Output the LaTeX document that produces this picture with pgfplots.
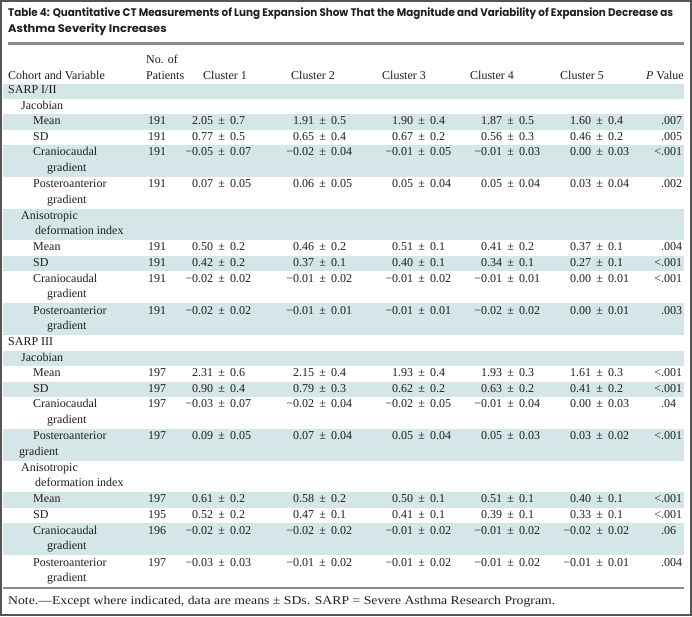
\documentclass[border=0pt]{standalone}
\usepackage{pgfplots}
\pgfplotsset{compat=1.18}
\usepackage{fontspec}
\setmainfont{Liberation Serif}
\newfontfamily\titlefont{Poppins}
\definecolor{band}{RGB}{213,230,232}
\definecolor{rulegray}{RGB}{140,140,140}
\definecolor{framegray}{RGB}{85,85,85}
\definecolor{txt}{RGB}{30,30,30}
\def\decsplit#1.#2\relax{\llap{#1}.#2}
\newcommand\lab[3]{\node[anchor=mid west,inner sep=0,text=txt] at (axis cs:#1,#2) {#3};}
\newcommand\val[3]{\node[anchor=mid west,inner sep=0,text=txt] at (axis cs:#1,#2) {\spaceskip=5.2pt\relax\decsplit#3\relax};}
\newcommand\row[8]{\lab{148}{#1}{#2}\val{198}{#1}{#3}\val{299}{#1}{#4}\val{398}{#1}{#5}\val{487}{#1}{#6}\val{576}{#1}{#7}\val{661}{#1}{#8}}
\newcommand\bandrow[2]{\fill[band] (axis cs:3,#1) rectangle (axis cs:684,#2);}
\begin{document}
\fontsize{12pt}{14pt}\selectfont
\begin{tikzpicture}
\begin{axis}[width=692pt,height=616pt,scale only axis,xmin=0,xmax=692,ymin=0,ymax=616,
  y dir=reverse,hide axis,clip=false]
% bands
\bandrow{83.5}{98.5}
\bandrow{114}{129.5}
\bandrow{145}{176.8}
\bandrow{208.6}{240.4}
\bandrow{255.9}{271.4}
\bandrow{303.2}{335}
\bandrow{350.5}{366}
\bandrow{381.5}{397}
\bandrow{428.8}{460.6}
\bandrow{492.4}{507.9}
\bandrow{523.4}{555.2}
% rules
\draw[rulegray,line width=2.2pt] (axis cs:8,43.5) -- (axis cs:684,43.5);
\draw[rulegray,line width=1.3pt] (axis cs:3,588) -- (axis cs:684,588);
% frame
\draw[framegray,line width=2pt] (axis cs:1,1) rectangle (axis cs:691,615);
% title
\node[anchor=mid west,inner sep=0,text=txt] at (axis cs:8,13.5) {\resizebox{665pt}{\height}{\titlefont\bfseries\fontsize{11pt}{13pt}\selectfont Table 4: Quantitative CT Measurements of Lung Expansion Show That the Magnitude and Variability of Expansion Decrease as}};
\node[anchor=mid west,inner sep=0,text=txt] at (axis cs:8,29.5) {\scalebox{1.044}[1]{\titlefont\bfseries\fontsize{11pt}{13pt}\selectfont Asthma Severity Increases}};
% header
\lab{146}{60.5}{No. of}
\lab{146}{76.5}{Patients}
\lab{8}{76.5}{Cohort and Variable}
\lab{203}{76.5}{Cluster 1}
\lab{291}{76.5}{Cluster 2}
\lab{382}{76.5}{Cluster 3}
\lab{470}{76.5}{Cluster 4}
\lab{560}{76.5}{Cluster 5}
\node[anchor=mid east,inner sep=0,text=txt] at (axis cs:684,76.5) {\textit{P} Value};
% SARP I/II
\lab{8}{91}{SARP I/II}
\lab{21}{106.25}{Jacobian}
\lab{33}{121.75}{Mean}
\row{121.75}{191}{2.05 ± 0.7}{1.91 ± 0.5}{1.90 ± 0.4}{1.87 ± 0.5}{1.60 ± 0.4}{.007}
\lab{33}{137.25}{SD}
\row{137.25}{191}{0.77 ± 0.5}{0.65 ± 0.4}{0.67 ± 0.2}{0.56 ± 0.3}{0.46 ± 0.2}{.005}
\lab{33}{153.2}{Craniocaudal}
\lab{47}{168.6}{gradient}
\row{153.2}{191}{−0.05 ± 0.07}{−0.02 ± 0.04}{−0.01 ± 0.05}{−0.01 ± 0.03}{0.00 ± 0.03}{<.001}
\lab{33}{185}{Posteroanterior}
\lab{47}{200.4}{gradient}
\row{185}{191}{0.07 ± 0.05}{0.06 ± 0.05}{0.05 ± 0.04}{0.05 ± 0.04}{0.03 ± 0.04}{.002}
\lab{21}{216.8}{Anisotropic}
\lab{35}{232.2}{deformation index}
\lab{33}{248.15}{Mean}
\row{248.15}{191}{0.50 ± 0.2}{0.46 ± 0.2}{0.51 ± 0.1}{0.41 ± 0.2}{0.37 ± 0.1}{.004}
\lab{33}{263.65}{SD}
\row{263.65}{191}{0.42 ± 0.2}{0.37 ± 0.1}{0.40 ± 0.1}{0.34 ± 0.1}{0.27 ± 0.1}{<.001}
\lab{33}{279.6}{Craniocaudal}
\lab{47}{295}{gradient}
\row{279.6}{191}{−0.02 ± 0.02}{−0.01 ± 0.02}{−0.01 ± 0.02}{−0.01 ± 0.01}{0.00 ± 0.01}{<.001}
\lab{33}{311.4}{Posteroanterior}
\lab{47}{326.8}{gradient}
\row{311.4}{191}{−0.02 ± 0.02}{−0.01 ± 0.01}{−0.01 ± 0.01}{−0.02 ± 0.02}{0.00 ± 0.01}{.003}
% SARP III
\lab{8}{342.75}{SARP III}
\lab{21}{358.25}{Jacobian}
\lab{33}{373.75}{Mean}
\row{373.75}{197}{2.31 ± 0.6}{2.15 ± 0.4}{1.93 ± 0.4}{1.93 ± 0.3}{1.61 ± 0.3}{<.001}
\lab{33}{389.25}{SD}
\row{389.25}{197}{0.90 ± 0.4}{0.79 ± 0.3}{0.62 ± 0.2}{0.63 ± 0.2}{0.41 ± 0.2}{<.001}
\lab{33}{405.2}{Craniocaudal}
\lab{47}{420.6}{gradient}
\row{405.2}{197}{−0.03 ± 0.07}{−0.02 ± 0.04}{−0.02 ± 0.05}{−0.01 ± 0.04}{0.00 ± 0.03}{.04}
\lab{33}{437}{Posteroanterior}
\lab{19}{452.4}{gradient}
\row{437}{197}{0.09 ± 0.05}{0.07 ± 0.04}{0.05 ± 0.04}{0.05 ± 0.03}{0.03 ± 0.02}{<.001}
\lab{21}{468.8}{Anisotropic}
\lab{35}{484.2}{deformation index}
\lab{33}{500.15}{Mean}
\row{500.15}{197}{0.61 ± 0.2}{0.58 ± 0.2}{0.50 ± 0.1}{0.51 ± 0.1}{0.40 ± 0.1}{<.001}
\lab{33}{515.65}{SD}
\row{515.65}{195}{0.52 ± 0.2}{0.47 ± 0.1}{0.41 ± 0.1}{0.39 ± 0.1}{0.33 ± 0.1}{<.001}
\lab{33}{531.6}{Craniocaudal}
\lab{47}{547}{gradient}
\row{531.6}{196}{−0.02 ± 0.02}{−0.02 ± 0.02}{−0.01 ± 0.02}{−0.01 ± 0.02}{−0.02 ± 0.02}{.06}
\lab{33}{563.4}{Posteroanterior}
\lab{47}{578.8}{gradient}
\row{563.4}{197}{−0.03 ± 0.03}{−0.01 ± 0.02}{−0.01 ± 0.02}{−0.01 ± 0.02}{−0.01 ± 0.01}{.004}
% note
\lab{8}{602}{\resizebox{547pt}{\height}{Note.—Except where indicated, data are means ± SDs. SARP = Severe Asthma Research Program.}}
\end{axis}
\end{tikzpicture}
\end{document}
